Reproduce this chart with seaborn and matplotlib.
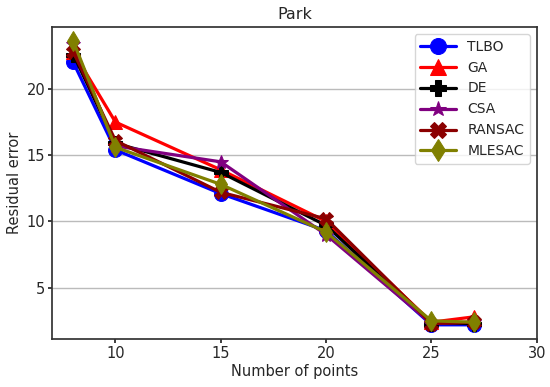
import pandas as pd
import seaborn as sns
import matplotlib
matplotlib.use('Agg')
import matplotlib.pyplot as plt

# data
points = [8, 10, 15, 20, 25, 27]
tlbo = [22.0, 15.4, 12.1, 9.3, 2.2, 2.2]
ga = [22.8, 17.5, 13.9, 10.0, 2.4, 2.8]
de = [22.6, 15.9, 13.7, 9.7, 2.3, 2.3]
csa = [23.4, 15.7, 14.5, 9.0, 2.3, 2.4]
ransac = [22.8, 16.1, 12.2, 10.2, 2.3, 2.4]
mlesac = [23.6, 15.6, 12.8, 9.2, 2.5, 2.4]

series = {'TLBO': tlbo, 'GA': ga, 'DE': de, 'CSA': csa,
          'RANSAC': ransac, 'MLESAC': mlesac}
colors = {'TLBO': 'blue', 'GA': 'red', 'DE': 'black', 'CSA': 'purple',
          'RANSAC': 'darkred', 'MLESAC': 'olive'}
markers = {'TLBO': 'o', 'GA': '^', 'DE': 'P', 'CSA': '*',
           'RANSAC': 'X', 'MLESAC': 'd'}

sns.set_theme(style='ticks')
plt.rcParams['font.family'] = ['DejaVu Sans']

fig = plt.figure(figsize=(5.5, 3.87), dpi=100)
ax = fig.add_axes([0.095, 0.124, 0.881, 0.806])

for name, vals in series.items():
    df = pd.DataFrame({'Number of points': points, 'Residual error': vals})
    sns.lineplot(data=df, x='Number of points', y='Residual error', ax=ax,
                 color=colors[name], marker=markers[name], markersize=10,
                 markeredgecolor=colors[name], linewidth=2.3, label=name)

ax.set_xlim(7, 30)
ax.set_xticks([10, 15, 20, 25, 30])
ax.set_yticks([5, 10, 15, 20])
ax.yaxis.grid(True, color='#bbbbbb', linewidth=1)
ax.set_axisbelow(True)
ax.set_title('Park', fontsize=11.5)
ax.set_xlabel('Number of points', fontsize=10.5, labelpad=2)
ax.set_ylabel('Residual error', fontsize=10.5, labelpad=3)
ax.tick_params(labelsize=10.5, length=3, pad=2)
for s in ax.spines.values():
    s.set_color('#333333')
ax.legend(loc='upper right', fontsize=10, framealpha=0.8, handlelength=2.6,
          borderaxespad=0.5, labelspacing=0.5, markerscale=1.15)

fig.savefig('out.png', dpi=100)
